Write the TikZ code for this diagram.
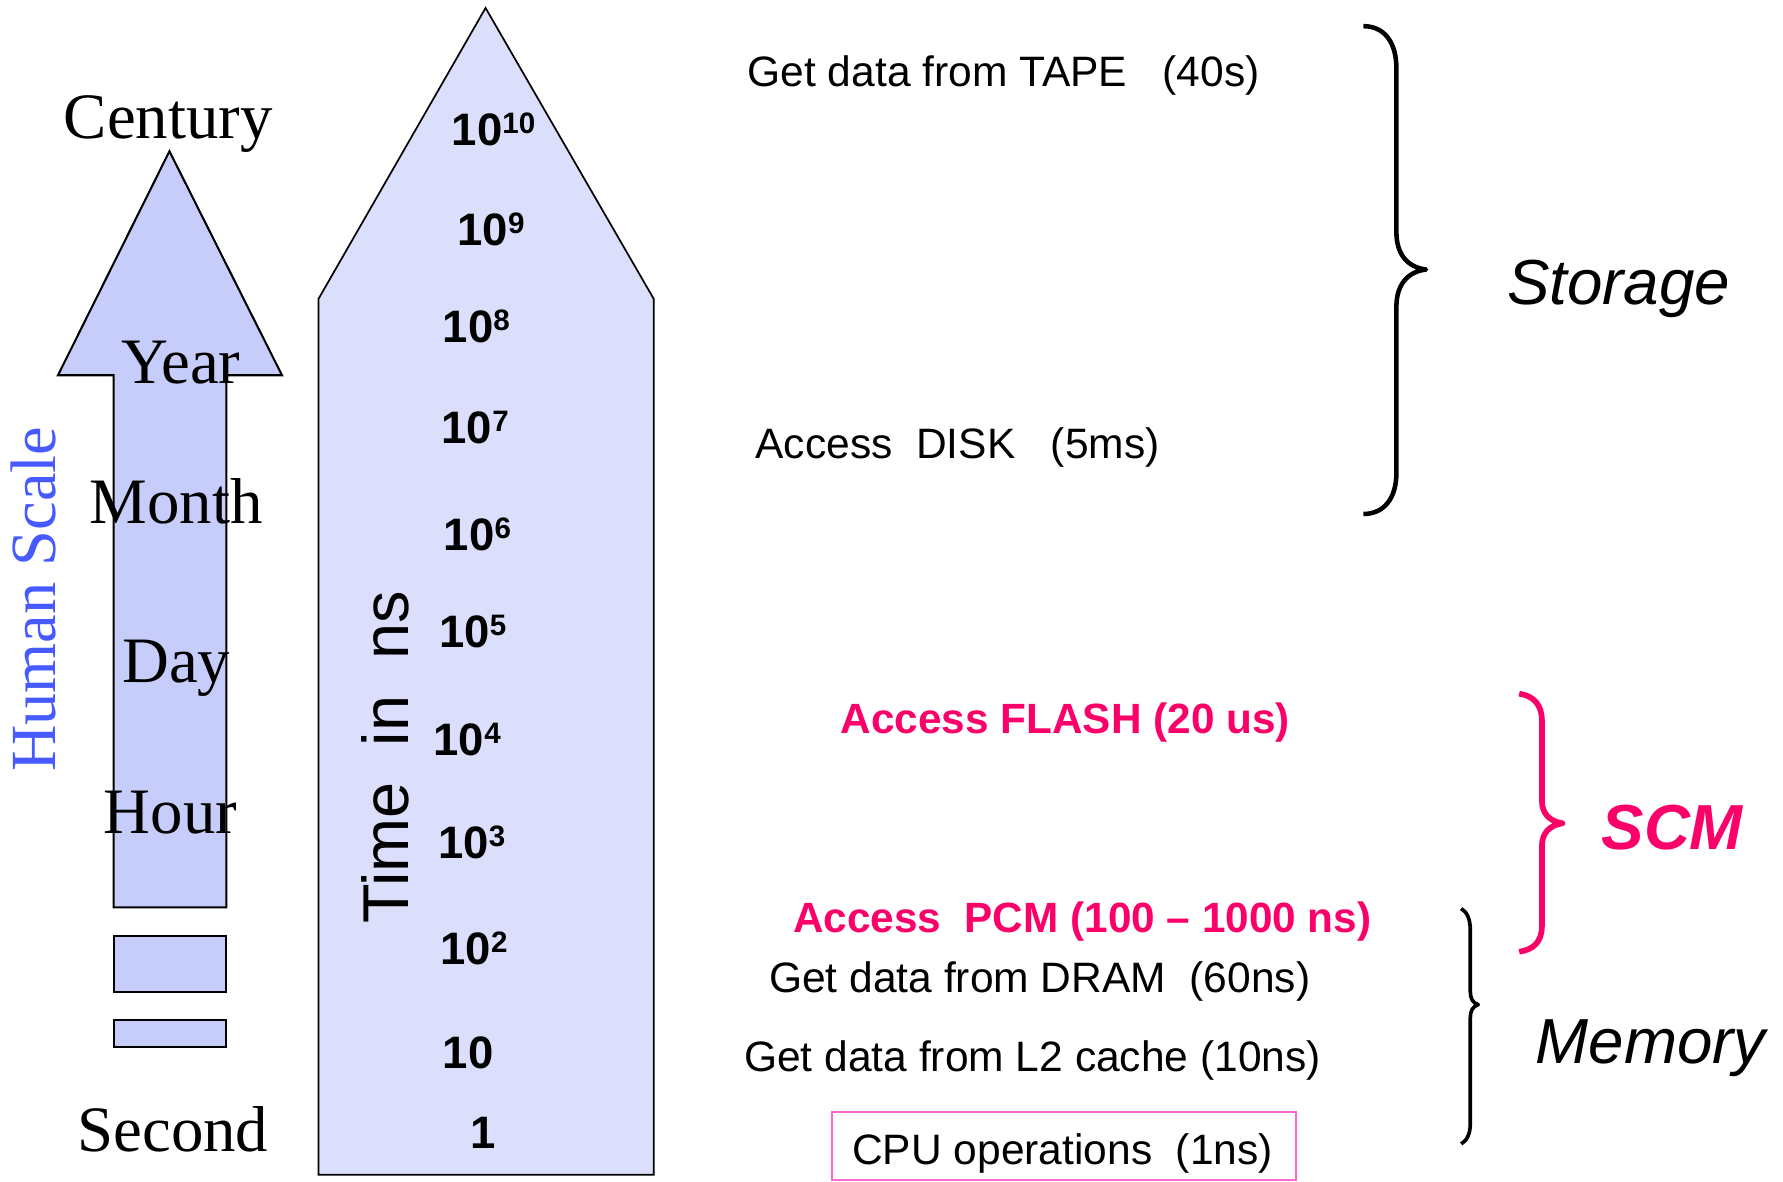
\documentclass[tikz,border=0pt]{standalone}
\usepackage{fontspec}
\setmainfont{Liberation Sans}
\newfontfamily\serifr{Liberation Serif}
\definecolor{humanblue}{RGB}{70,90,255}
\definecolor{leftfill}{RGB}{199,205,250}
\definecolor{bigfill}{RGB}{220,223,252}
\definecolor{scmred}{RGB}{250,0,105}
\definecolor{boxpink}{RGB}{255,105,205}
% power of ten with a raised exponent
\newcommand\pw[1]{10\raisebox{5.2pt}{\fontsize{13pt}{14pt}\selectfont #1}}
\tikzset{
  serifl/.style={font=\serifr\fontsize{28.5pt}{30pt}\selectfont, anchor=base, inner sep=0pt},
  pow/.style={font=\bfseries\fontsize{20pt}{21pt}\selectfont, anchor=base west, inner sep=0pt},
  note/.style={font=\fontsize{18.7pt}{20pt}\selectfont, anchor=base west, inner sep=0pt},
  hot/.style={font=\bfseries\fontsize{18.6pt}{20pt}\selectfont, anchor=base west, inner sep=0pt, text=scmred},
  grouplabel/.style={font=\itshape\fontsize{28pt}{30pt}\selectfont, anchor=base west, inner sep=0pt},
  shape outline/.style={draw=black, line width=0.75pt, line join=miter},
  bracket/.style={line join=round, line cap=butt},
}
\begin{document}
\begin{tikzpicture}[x=0.5pt, y=-0.5pt]
\useasboundingbox (0,0) rectangle (1568,1039);

% human-scale arrow and the two short bars below it
\draw[shape outline, fill=leftfill, line width=0.9pt]
  (100,798) -- (100,330) -- (51,330) -- (149,133) -- (248,330) -- (199,330) -- (199,798) -- cycle;
\draw[shape outline, fill=leftfill, line width=0.9pt] (100,823) rectangle (199,872);
\draw[shape outline, fill=leftfill, line width=0.9pt] (100,897) rectangle (199,921);

% nanosecond-scale arrow
\draw[shape outline, fill=bigfill]
  (280,1033) -- (280,263) -- (427,7) -- (575,263) -- (575,1033) -- cycle;

% human time labels
\node[serifl] (century) at (148,122) {Century};
\node[serifl] (year)    at (159,337) {Year};
\node[serifl] (month)   at (155,460) {Month};
\node[serifl] (day)     at (155,600) {Day};
\node[serifl] (hour)    at (150,733) {Hour};
\node[serifl] (second)  at (152,1013) {Second};

\node[font=\serifr\fontsize{28.3pt}{30pt}\selectfont, text=humanblue, rotate=90,
      anchor=base, inner sep=0pt] (human) at (49,527) {Human Scale};

\node[font=\fontsize{28.5pt}{30pt}\selectfont, rotate=90, anchor=base, inner sep=0pt]
  (timeins) at (359,666) {Time\ \ in\ \ ns};

% powers of ten
\node[pow] (p10) at (397,128) {\pw{10}};
\node[pow] (p9)  at (402,216) {\pw{9}};
\node[pow] (p8)  at (389,301) {\pw{8}};
\node[pow] (p7)  at (388,390) {\pw{7}};
\node[pow] (p6)  at (390,484) {\pw{6}};
\node[pow] (p5)  at (386,569) {\pw{5}};
\node[pow] (p4)  at (381,664) {\pw{4}};
\node[pow] (p3)  at (385,755) {\pw{3}};
\node[pow] (p2)  at (387,848) {\pw{2}};
\node[pow] (p1)  at (389,940) {10};
\node[pow] (p0)  at (413,1010) {1};

% operation latencies
\node[note] (tape)  at (657,76)  {Get data from TAPE\ \ \ (40s)};
\node[note] (disk)  at (664,403) {Access\ \ DISK\ \ \ (5ms)};
\node[hot]  (flash) at (739,645) {Access FLASH (20 us)};
\node[hot]  (pcm)   at (697,820) {Access\ \ PCM (100 – 1000 ns)};
\node[note] (dram)  at (676,873) {Get data from DRAM\ \ (60ns)};
\node[note] (l2)    at (654,942) {Get data from L2 cache (10ns)};
\node[note] (cpu)   at (749,1024) {CPU operations\ \ (1ns)};
\draw[boxpink, line width=0.9pt] (732,977.5) rectangle (1140,1037.5);

% braces grouping the levels
\draw[bracket, line width=2pt]
  (1199,23) .. controls (1218,23) and (1228,38) .. (1228,60) -- (1228,204)
  .. controls (1228,224) and (1238,235) .. (1254,237)
  .. controls (1238,239) and (1228,250) .. (1228,270) -- (1228,416)
  .. controls (1228,437) and (1218,452) .. (1199,452);
\node[grouplabel] (storage) at (1325,268) {Storage};

\draw[bracket, scmred, line width=2.5pt]
  (1336,610) .. controls (1349,612) and (1356,620) .. (1356,634) -- (1356,704)
  .. controls (1356,715) and (1362,722) .. (1374,724)
  .. controls (1362,726) and (1356,733) .. (1356,744) -- (1356,814)
  .. controls (1356,828) and (1349,835) .. (1336,837);
\node[grouplabel, font=\bfseries\itshape\fontsize{28pt}{30pt}\selectfont, text=scmred]
  (scm) at (1408,747) {SCM};

\draw[bracket, line width=1.6pt]
  (1285,799) .. controls (1290,802) and (1293,808) .. (1293,818) -- (1293,872)
  .. controls (1293,878) and (1295,882) .. (1300,883.5)
  .. controls (1295,885) and (1293,889) .. (1293,895) -- (1293,988)
  .. controls (1293,997) and (1290,1003) .. (1285,1006);
\node[grouplabel] (memory) at (1350,935) {Memory};
\end{tikzpicture}
\end{document}
